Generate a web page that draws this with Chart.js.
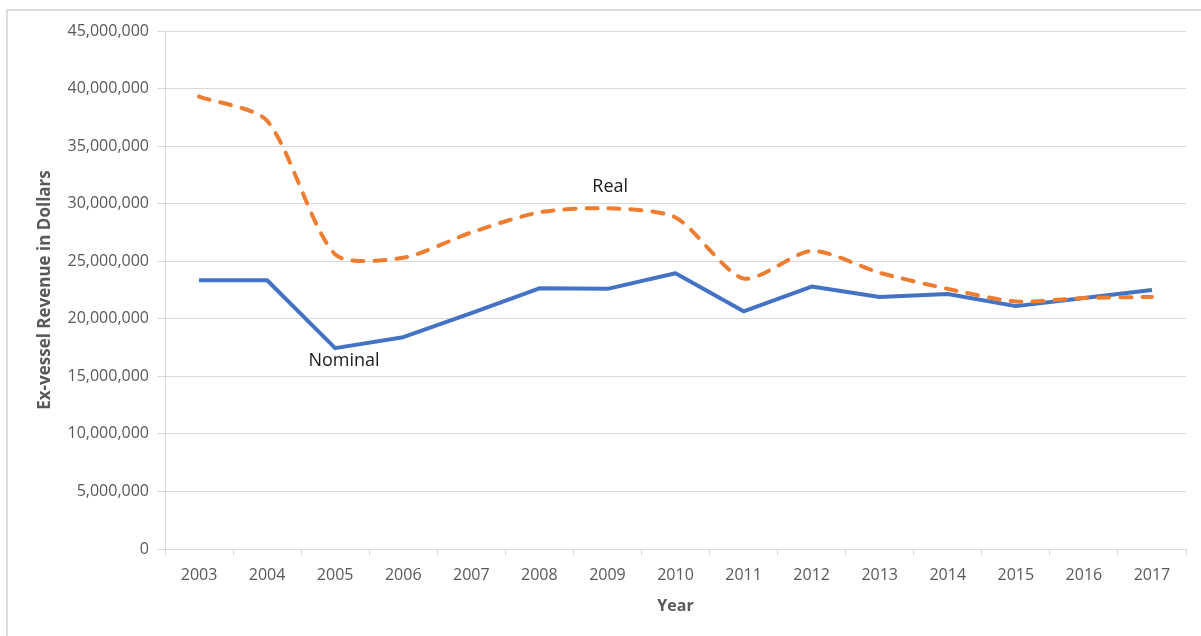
<!DOCTYPE html>
<html>
<head>
<meta charset="utf-8">
<title>Ex-vessel Revenue, 2003–2017</title>
<script src="https://cdn.jsdelivr.net/npm/chart.js@4.4.1/dist/chart.umd.min.js"></script>
<style>
  html, body { margin: 0; padding: 0; background: #ffffff; overflow: hidden; }
  #frame {
    position: absolute; left: 6px; top: 9px; width: 1300px; height: 700px;
    border-left: 2px solid #dedede; border-top: 2px solid #dedede;
  }
  #chart { position: absolute; left: 0; top: 0; }
</style>
</head>
<body>
<div id="frame"></div>
<canvas id="chart" width="1201" height="636"></canvas>
<script>
// Years on the category axis
const years = ['2003','2004','2005','2006','2007','2008','2009','2010',
               '2011','2012','2013','2014','2015','2016','2017'];

// Ex-vessel revenue, nominal dollars
const nominal = [23350000, 23350000, 17450000, 18400000, 20500000, 22650000, 22600000,
                 23950000, 20650000, 22800000, 21900000, 22150000, 21100000, 21800000, 22500000];

// Ex-vessel revenue, real (inflation-adjusted) dollars
const real = [39300000, 37200000, 25600000, 25300000, 27500000, 29250000, 29600000,
              28800000, 23500000, 25900000, 24000000, 22600000, 21500000, 21800000, 21900000];

// Value-axis ticks
const yTicks = [0, 5000000, 10000000, 15000000, 20000000, 25000000,
                30000000, 35000000, 40000000, 45000000];

// In-chart series labels: text, category position, value position
const labelText = ['Real', 'Nominal'];
const labelCat = [6.04, 2.13];
const labelVal = [31450000, 16330000];

const GRID = '#d9d9d9';
const TEXT = '#595959';

const seriesLabels = {
  id: 'seriesLabels',
  afterDatasetsDraw(chart) {
    const { ctx, scales: { x, y } } = chart;
    ctx.save();
    ctx.font = '18px "Open Sans"';
    ctx.fillStyle = '#1a1a1a';
    ctx.textAlign = 'center';
    ctx.textBaseline = 'middle';
    labelText.forEach((t, i) => {
      ctx.fillText(t, x.getPixelForValue(labelCat[i]), y.getPixelForValue(labelVal[i]));
    });
    ctx.restore();
  }
};

new Chart(document.getElementById('chart'), {
  type: 'line',
  data: {
    labels: years,
    datasets: [
      {
        label: 'Real',
        data: real,
        order: 0,
        borderColor: '#ED7D31',
        borderWidth: 4,
        borderDash: [11, 11],
        borderCapStyle: 'round',
        tension: 0.25,
        pointRadius: 0,
        fill: false
      },
      {
        label: 'Nominal',
        data: nominal,
        order: 1,
        borderColor: '#4472C4',
        borderWidth: 4,
        borderJoinStyle: 'round',
        tension: 0,
        pointRadius: 0,
        fill: false
      }
    ]
  },
  options: {
    responsive: false,
    animation: false,
    layout: { padding: { top: 31, right: 15, bottom: 0, left: 0 } },
    plugins: {
      legend: { display: false },
      tooltip: { enabled: false }
    },
    scales: {
      x: {
        offset: true,
        grid: {
          offset: true,
          drawOnChartArea: false,
          drawTicks: true,
          tickLength: 6,
          color: GRID
        },
        border: { display: true, color: GRID },
        ticks: {
          color: TEXT,
          font: { family: 'Open Sans', size: 16 },
          padding: 11,
          maxRotation: 0,
          autoSkip: false
        },
        title: {
          display: true,
          text: 'Year',
          color: TEXT,
          font: { family: 'Open Sans', size: 16, weight: 'bold' },
          padding: { top: 0, bottom: 20 }
        },
        afterFit(scale) { scale.height = 87; }
      },
      y: {
        min: 0,
        max: 45000000,
        afterBuildTicks(scale) { scale.ticks = yTicks.map(v => ({ value: v })); },
        grid: { color: GRID, tickLength: 8, drawTicks: true },
        border: { display: true, color: GRID },
        ticks: {
          color: TEXT,
          font: { family: 'Open Sans', size: 16 },
          padding: 8,
          callback: v => v.toLocaleString('en-US')
        },
        title: {
          display: true,
          text: 'Ex-vessel Revenue in Dollars',
          color: TEXT,
          font: { family: 'Open Sans', size: 17, weight: 'bold' },
          padding: { top: 35, bottom: 0 }
        },
        afterFit(scale) { scale.width = 165; }
      }
    }
  },
  plugins: [seriesLabels]
});
</script>
</body>
</html>
